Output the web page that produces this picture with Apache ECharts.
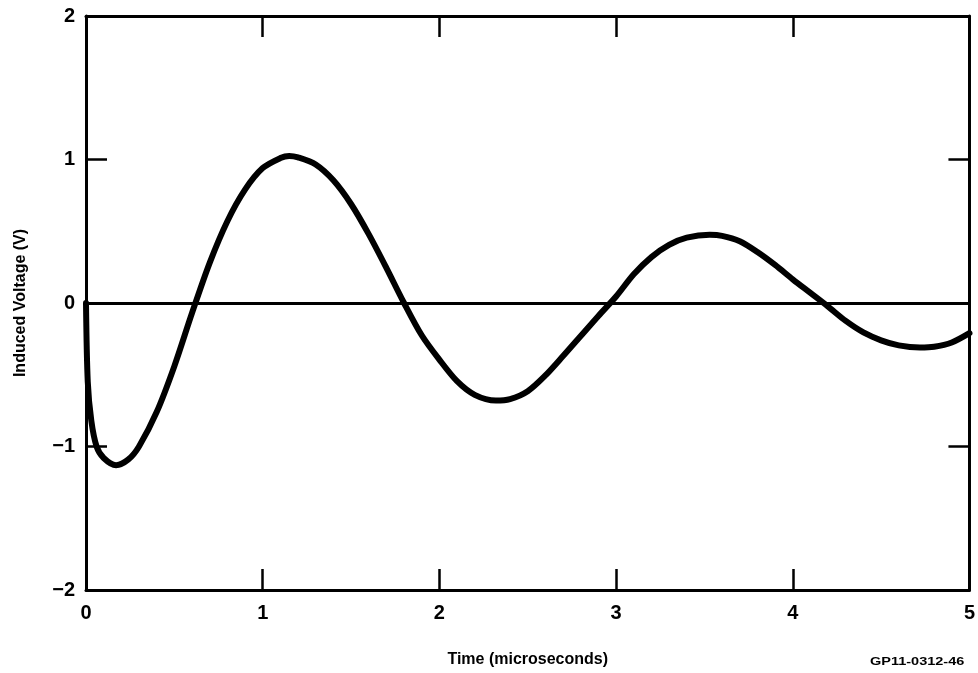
<!DOCTYPE html>
<html>
<head>
<meta charset="utf-8">
<script src="https://cdn.jsdelivr.net/npm/echarts@6/dist/echarts.min.js"></script>
<style>
  html, body { margin: 0; padding: 0; background: #fff; }
  #chart { width: 978px; height: 673px; }
</style>
</head>
<body>
<div id="chart"></div>
<script>
// Time samples (microseconds) and induced voltage (V) of the damped ringing waveform
const timeUs = [0, 0.01, 0.03, 0.06, 0.1, 0.17, 0.24, 0.3, 0.4, 0.5, 0.6, 0.7, 0.8, 0.9, 1.0, 1.1, 1.15, 1.2, 1.3, 1.4, 1.5, 1.6, 1.7, 1.8, 1.9, 2.0, 2.1, 2.2, 2.32, 2.4, 2.5, 2.6, 2.7, 2.8, 2.9, 3.0, 3.1, 3.2, 3.3, 3.4, 3.53, 3.6, 3.7, 3.8, 3.9, 4.0, 4.1, 4.2, 4.3, 4.4, 4.5, 4.6, 4.72, 4.8, 4.9, 5.0];
const voltage = [0, -0.55, -0.82, -1.0, -1.08, -1.13, -1.09, -1.0, -0.76, -0.44, -0.07, 0.28, 0.57, 0.79, 0.94, 1.01, 1.025, 1.015, 0.965, 0.855, 0.69, 0.48, 0.245, 0.0, -0.225, -0.395, -0.545, -0.64, -0.68, -0.67, -0.615, -0.505, -0.37, -0.23, -0.09, 0.045, 0.2, 0.32, 0.405, 0.455, 0.475, 0.468, 0.43, 0.355, 0.265, 0.165, 0.07, -0.025, -0.125, -0.205, -0.26, -0.295, -0.31, -0.305, -0.275, -0.21];

const xTicks = [0, 1, 2, 3, 4, 5];
const yTickLabels = { '2': '2', '1': '1', '0': '0', '-1': '\u22121', '-2': '\u22122' };

const FONT = '"Liberation Sans", Arial, sans-serif';

const points = timeUs.map((t, i) => [t, voltage[i]]);

const frameLine = { show: true, onZero: false, lineStyle: { color: '#000', width: 3 } };
const innerTick = { show: true, inside: true, length: 21, lineStyle: { color: '#000', width: 2.5 } };

const chart = echarts.init(document.getElementById('chart'));
chart.setOption({
  animation: false,
  backgroundColor: '#fff',
  grid: { left: 86, right: 6, top: 16, bottom: 81, containLabel: false },
  xAxis: [
    {
      type: 'value', position: 'bottom', min: 0, max: 5, interval: 1,
      name: 'Time (microseconds)', nameLocation: 'middle', nameGap: 62,
      nameTextStyle: { fontFamily: FONT, fontWeight: 'bold', fontSize: 16, color: '#000' },
      axisLine: frameLine, axisTick: innerTick,
      axisLabel: {
        margin: 13, fontFamily: FONT, fontWeight: 'bold', fontSize: 20, color: '#000',
        formatter: v => xTicks.includes(v) ? String(v) : ''
      },
      splitLine: { show: false }
    },
    {
      type: 'value', position: 'top', min: 0, max: 5, interval: 1,
      axisLine: frameLine, axisTick: innerTick,
      axisLabel: { show: false }, splitLine: { show: false }
    }
  ],
  yAxis: [
    {
      type: 'value', position: 'left', min: -2, max: 2, interval: 1,
      name: 'Induced Voltage (V)', nameLocation: 'middle', nameGap: 57,
      nameTextStyle: { fontFamily: FONT, fontWeight: 'bold', fontSize: 16, color: '#000' },
      axisLine: frameLine, axisTick: innerTick,
      axisLabel: {
        margin: 11, fontFamily: FONT, fontWeight: 'bold', fontSize: 20, color: '#000',
        formatter: v => yTickLabels[String(v)] || ''
      },
      splitLine: { show: false }
    },
    {
      type: 'value', position: 'right', min: -2, max: 2, interval: 1,
      axisLine: frameLine, axisTick: innerTick,
      axisLabel: { show: false }, splitLine: { show: false }
    }
  ],
  series: [
    {
      type: 'line',
      data: points,
      smooth: 0.3,
      showSymbol: false,
      lineStyle: { color: '#000', width: 6, cap: 'round', join: 'round' },
      markLine: {
        silent: true,
        symbol: 'none',
        label: { show: false },
        lineStyle: { color: '#000', width: 3, type: 'solid' },
        data: [{ yAxis: 0 }]
      },
      z: 3
    }
  ],
  graphic: [
    {
      type: 'text', x: 870, y: 657, scaleX: 1.45,
      style: { text: 'GP11-0312-46', fontFamily: FONT, fontWeight: 'bold', fontSize: 10, fill: '#000' }
    }
  ]
});
</script>
</body>
</html>
